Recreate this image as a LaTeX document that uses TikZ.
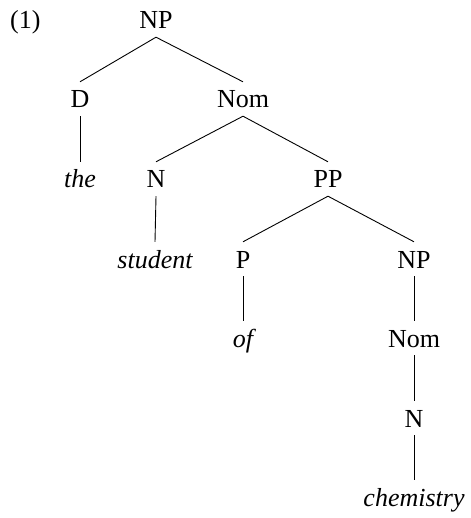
\documentclass[tikz,border=0pt]{standalone}
\usepackage{fontspec}
\setmainfont{Liberation Serif}
\begin{document}
\begin{tikzpicture}[x=1pt,y=-1pt,
  lab/.style={inner sep=0pt,text height=26pt,text depth=8pt,anchor=base,font=\fontsize{26}{30}\selectfont},
  word/.style={lab,font=\fontsize{26}{30}\selectfont\itshape},
  br/.style={line width=0.9pt}]
\useasboundingbox (0,0) rectangle (470,518);
\node[lab,anchor=base west] (ex) at (10,29) {(1)};
\node[lab] (np1) at (156,29) {NP};
\node[lab] (d) at (80,108) {D};
\node[lab] (nom1) at (243,108) {Nom};
\node[word] (the) at (80,188) {the};
\node[lab] (n1) at (156,188) {N};
\node[lab] (pp) at (328,188) {PP};
\node[word] (student) at (155,268) {student};
\node[lab] (p) at (243,268) {P};
\node[lab] (np2) at (414,268) {NP};
\node[word] (of) at (243,347) {of};
\node[lab] (nom2) at (414,347) {Nom};
\node[lab] (n2) at (414,427) {N};
\node[word] (chem) at (414,506) {chemistry};
\draw[br] (np1.south) -- (d.north);
\draw[br] (np1.south) -- (nom1.north);
\draw[br] (d.south) -- (the.north);
\draw[br] (nom1.south) -- (n1.north);
\draw[br] (nom1.south) -- (pp.north);
\draw[br] (n1.south) -- (student.north);
\draw[br] (pp.south) -- (p.north);
\draw[br] (pp.south) -- (np2.north);
\draw[br] (p.south) -- (of.north);
\draw[br] (np2.south) -- (nom2.north);
\draw[br] (nom2.south) -- (n2.north);
\draw[br] (n2.south) -- (chem.north);
\end{tikzpicture}
\end{document}
